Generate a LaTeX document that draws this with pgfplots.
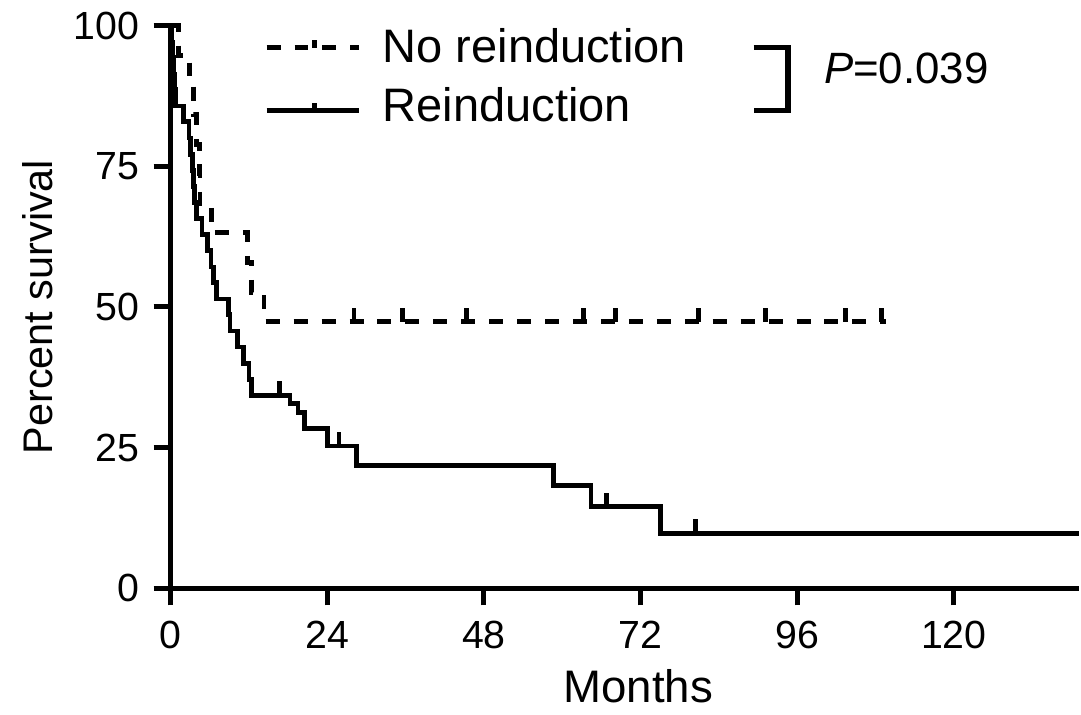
\documentclass[border=0pt]{standalone}
\usepackage{pgfplots}
\pgfplotsset{compat=1.18}
\usepackage{fontspec}
\setmainfont{Liberation Sans}
\pgfdeclareplotmark{cens}{%
  \pgfpathmoveto{\pgfqpoint{0pt}{0pt}}%
  \pgfpathlineto{\pgfqpoint{0pt}{4.0pt}}%
  \pgfusepathqstroke}
\begin{document}
\begin{tikzpicture}
\begin{axis}[
  at={(0,0)}, anchor=south west,
  scale only axis,
  width=91.0mm, height=56.4mm,
  xmin=0, xmax=139.1, ymin=0, ymax=100,
  axis lines=left,
  axis line style={-, line width=1.4pt, black},
  xtick={0,24,48,72,96,120},
  ytick={0,25,50,75,100},
  tick align=outside,
  major tick length=1.7mm,
  tick style={line width=1.4pt, black},
  /pgf/number format/assume math mode=true,
  tick label style={font=\fontsize{11.2}{13}\selectfont},
  xticklabel style={yshift=-0.3mm},
  yticklabel style={xshift=-0.2mm},
  xlabel={Months},
  ylabel={Percent survival},
  xlabel style={font=\fontsize{13}{15}\selectfont, at={(axis description cs:0.515,-0.203)}, anchor=base},
  ylabel style={font=\fontsize{11.8}{14}\selectfont, at={(axis description cs:-0.146,0.5)}, anchor=center, rotate=0},
  clip=false,
]
% No reinduction (dashed)
\addplot[const plot, black, line width=1.35pt, dash pattern=on 1.4mm off 1.4mm] coordinates {
(0,100) (1.2,94.7) (2.9,89.5) (3.5,84.2) (4.0,78.9) (4.4,73.7) (4.5,68.4)
(6.3,63.2) (11.8,57.9) (12.4,52.6) (14.3,47.4) (109.6,47.4)
};
\addplot[only marks, mark=cens, mark options={solid, line width=1.35pt, black}] coordinates {
(28.1,47.4) (35.5,47.4) (45.3,47.4) (63.3,47.4) (68.2,47.4) (80.9,47.4) (91.1,47.4) (103.4,47.4) (108.9,47.4)
};
% Reinduction (solid)
\addplot[const plot, black, line width=1.35pt] coordinates {
(0,100) (0.15,97.1) (0.3,94.3) (0.45,91.4) (0.6,88.6) (0.8,85.7)
(2.0,82.9) (2.8,80.0) (3.1,77.1) (3.3,74.3) (3.5,71.4) (3.7,68.6) (4.0,65.7)
(4.8,62.9) (5.6,60.0) (6.2,57.1) (6.6,54.3) (7.0,51.4) (8.9,48.6) (9.1,45.7)
(10.2,42.9) (11.2,40.0) (12.0,37.1) (12.4,34.3) (18.3,32.8) (19.5,31.3)
(20.5,28.4) (24.0,25.3) (28.5,21.8) (58.7,18.3) (64.4,14.5) (75.1,9.75) (139.1,9.75)
};
\addplot[only marks, mark=cens, mark options={solid, line width=1.35pt, black}] coordinates {
(16.7,34.3) (25.8,25.3) (66.8,14.5) (80.4,9.75)
};
% legend
\draw[black, line width=1.35pt, dash pattern=on 1.4mm off 1.4mm] (axis cs:14.7,96.1) -- (axis cs:28.9,96.1);
\draw[black, line width=1.35pt] (axis cs:22.0,96.1) -- ++(0,0.8mm);
\draw[black, line width=1.35pt] (axis cs:14.7,84.9) -- (axis cs:28.9,84.9);
\draw[black, line width=1.35pt] (axis cs:22.0,84.9) -- ++(0,0.8mm);
\node[anchor=base west, inner sep=0pt, font=\fontsize{13.4}{15}\selectfont] at (axis cs:32.4,93.4) {No reinduction};
\node[anchor=base west, inner sep=0pt, font=\fontsize{13.4}{15}\selectfont] at (axis cs:32.4,82.9) {Reinduction};
\draw[black, line width=1.6pt] (axis cs:89.3,96.1) -- (axis cs:94.6,96.1) -- (axis cs:94.6,84.9) -- (axis cs:89.3,84.9);
\node[anchor=west, inner sep=0pt, font=\fontsize{12.5}{15}\selectfont] at (axis cs:100.0,92.4) {\textit{P}=0.039};
\end{axis}
\path (-17.1mm,-12.2mm) rectangle (91.0mm,58.7mm);
\end{tikzpicture}
\end{document}
